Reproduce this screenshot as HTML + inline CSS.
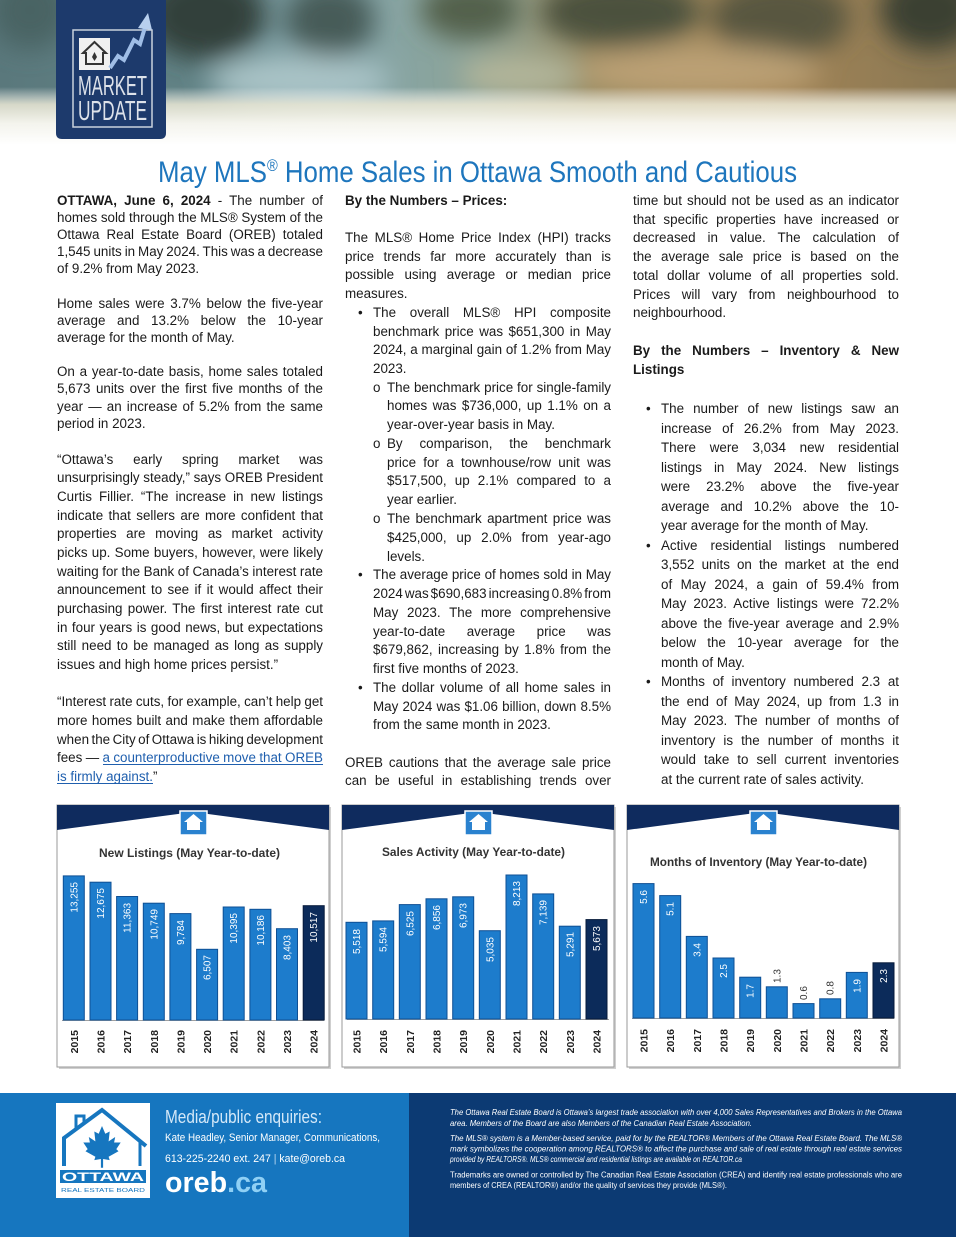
<!DOCTYPE html>
<html><head><meta charset="utf-8"><title>May MLS® Home Sales in Ottawa Smooth and Cautious</title>
<style>
html,body{margin:0;padding:0;background:#fff;}
svg{display:block;}
</style></head><body>
<svg id="pg" width="956" height="1237" viewBox="0 0 956 1237" xmlns="http://www.w3.org/2000/svg" font-family="'Liberation Sans', Arial, sans-serif">
<defs>
  <filter id="blur" x="-30%" y="-80%" width="160%" height="260%"><feGaussianBlur stdDeviation="13"/></filter>
  <linearGradient id="hbase" x1="0" y1="0" x2="1" y2="0">
    <stop offset="0" stop-color="#5a787c"/>
    <stop offset="0.2" stop-color="#628386"/>
    <stop offset="0.35" stop-color="#84a5aa"/>
    <stop offset="0.5" stop-color="#8ca398"/>
    <stop offset="0.62" stop-color="#9a8d64"/>
    <stop offset="0.8" stop-color="#a28456"/>
    <stop offset="1" stop-color="#8a7854"/>
  </linearGradient>
  <linearGradient id="hfade" x1="0" y1="0" x2="0" y2="145" gradientUnits="userSpaceOnUse">
    <stop offset="0" stop-color="#ffffff" stop-opacity="0"/>
    <stop offset="0.6" stop-color="#ffffff" stop-opacity="0"/>
    <stop offset="0.72" stop-color="#ece9d6" stop-opacity="0.85"/>
    <stop offset="0.85" stop-color="#f8f7f0" stop-opacity="0.97"/>
    <stop offset="1" stop-color="#ffffff" stop-opacity="1"/>
  </linearGradient>
  <clipPath id="hclip"><rect x="0" y="0" width="956" height="145"/></clipPath>
</defs>

<!-- HEADER PHOTO -->
<g clip-path="url(#hclip)">
  <rect x="0" y="0" width="956" height="145" fill="url(#hbase)"/>
  <g filter="url(#blur)">
    <ellipse cx="30" cy="10" rx="40" ry="40" fill="#4a6363"/>
    <ellipse cx="205" cy="15" rx="60" ry="45" fill="#303f3a"/>
    <ellipse cx="330" cy="20" rx="45" ry="38" fill="#475b59"/>
    <ellipse cx="470" cy="10" rx="50" ry="30" fill="#52604c"/>
    <ellipse cx="620" cy="12" rx="80" ry="35" fill="#4b513c"/>
    <ellipse cx="780" cy="18" rx="70" ry="40" fill="#58573f"/>
    <ellipse cx="930" cy="10" rx="50" ry="40" fill="#3b3f31"/>
    <ellipse cx="300" cy="80" rx="90" ry="25" fill="#a9c3c6"/>
    <ellipse cx="700" cy="70" rx="120" ry="25" fill="#bba075"/>
    <ellipse cx="520" cy="75" rx="60" ry="20" fill="#b2b59a"/>
  </g>
  <rect x="0" y="0" width="956" height="145" fill="url(#hfade)"/>
</g>

<!-- BADGE -->
<path d="M56,0 H166 V133 Q166,139 160,139 H62 Q56,139 56,133 Z" fill="#1d3a6c"/>
<rect x="73" y="30" width="79" height="97" fill="none" stroke="#c9d1dc" stroke-width="1.5"/>
<rect x="79" y="38" width="31" height="32" fill="#f0f0f0"/>
<polygon points="94.5,42 83,53 86,53 86,64 103,64 103,53 106,53" fill="none" stroke="#333" stroke-width="2"/>
<polygon points="94.5,52 97,57 94.5,61 92,57" fill="#333"/>
<polyline points="110,68 118,56 124,60 134,40 140,44 146,24" fill="none" stroke="#9fbde6" stroke-width="4"/>
<polygon points="138,28 148,13 152,30" fill="#b8cfee"/>
<text x="78" y="95" font-size="28" fill="#dde2ea" textLength="69" lengthAdjust="spacingAndGlyphs">MARKET</text>
<text x="78" y="120" font-size="28" fill="#dde2ea" textLength="69" lengthAdjust="spacingAndGlyphs">UPDATE</text>

<!-- TITLE -->
<text x="158" y="182" font-size="30" fill="#1e76bd" textLength="639" lengthAdjust="spacingAndGlyphs">May MLS<tspan font-size="17" dy="-11">®</tspan><tspan dy="11"> Home Sales in Ottawa Smooth and Cautious</tspan></text>

<!-- BODY TEXT -->
<g font-size="13.4" fill="#1a1a1a">
  <!-- Left column -->
  <text x="57" y="205" textLength="266" lengthAdjust="spacing"><tspan font-weight="bold">OTTAWA, June 6, 2024</tspan> - The number of</text>
  <text x="57" y="222" textLength="266" lengthAdjust="spacing">homes sold through the MLS® System of the</text>
  <text x="57" y="239" textLength="266" lengthAdjust="spacing">Ottawa Real Estate Board (OREB) totaled</text>
  <text x="57" y="256" textLength="266" lengthAdjust="spacing">1,545 units in May 2024. This was a decrease</text>
  <text x="57" y="273">of 9.2% from May 2023.</text>
  <text x="57" y="308" textLength="266" lengthAdjust="spacing">Home sales were 3.7% below the five-year</text>
  <text x="57" y="325" textLength="266" lengthAdjust="spacing">average and 13.2% below the 10-year</text>
  <text x="57" y="342">average for the month of May.</text>
  <text x="57" y="376" textLength="266" lengthAdjust="spacing">On a year-to-date basis, home sales totaled</text>
  <text x="57" y="393" textLength="266" lengthAdjust="spacing">5,673 units over the first five months of the</text>
  <text x="57" y="411" textLength="266" lengthAdjust="spacing">year — an increase of 5.2% from the same</text>
  <text x="57" y="428">period in 2023.</text>
  <text x="57" y="464" textLength="266" lengthAdjust="spacing">“Ottawa’s early spring market was</text>
  <text x="57" y="482" textLength="266" lengthAdjust="spacing">unsurprisingly steady,” says OREB President</text>
  <text x="57" y="501" textLength="266" lengthAdjust="spacing">Curtis Fillier. “The increase in new listings</text>
  <text x="57" y="520" textLength="266" lengthAdjust="spacing">indicate that sellers are more confident that</text>
  <text x="57" y="538" textLength="266" lengthAdjust="spacing">properties are moving as market activity</text>
  <text x="57" y="557" textLength="266" lengthAdjust="spacing">picks up. Some buyers, however, were likely</text>
  <text x="57" y="576" textLength="266" lengthAdjust="spacing">waiting for the Bank of Canada’s interest rate</text>
  <text x="57" y="594" textLength="266" lengthAdjust="spacing">announcement to see if it would affect their</text>
  <text x="57" y="613" textLength="266" lengthAdjust="spacing">purchasing power. The first interest rate cut</text>
  <text x="57" y="632" textLength="266" lengthAdjust="spacing">in four years is good news, but expectations</text>
  <text x="57" y="650" textLength="266" lengthAdjust="spacing">still need to be managed as long as supply</text>
  <text x="57" y="669">issues and high home prices persist.”</text>
  <text x="57" y="706" textLength="266" lengthAdjust="spacing">“Interest rate cuts, for example, can’t help get</text>
  <text x="57" y="725" textLength="266" lengthAdjust="spacing">more homes built and make them affordable</text>
  <text x="57" y="744" textLength="266" lengthAdjust="spacing">when the City of Ottawa is hiking development</text>
  <text x="57" y="762" textLength="266" lengthAdjust="spacing">fees — <tspan fill="#1f5fae">a counterproductive move that OREB</tspan></text>
  <line x1="103" y1="764.5" x2="323" y2="764.5" stroke="#1f5fae" stroke-width="1"/>
  <text x="57" y="781"><tspan fill="#1f5fae">is firmly against.</tspan>”</text>
  <line x1="57" y1="783.5" x2="153" y2="783.5" stroke="#1f5fae" stroke-width="1"/>

  <!-- Middle column -->
  <text x="345" y="205" font-weight="bold">By the Numbers – Prices:</text>
  <text x="345" y="242" textLength="266" lengthAdjust="spacing">The MLS® Home Price Index (HPI) tracks</text>
  <text x="345" y="261" textLength="266" lengthAdjust="spacing">price trends far more accurately than is</text>
  <text x="345" y="279" textLength="266" lengthAdjust="spacing">possible using average or median price</text>
  <text x="345" y="298">measures.</text>
  <text x="358" y="317">•</text>
  <text x="373" y="317" textLength="238" lengthAdjust="spacing">The overall MLS® HPI composite</text>
  <text x="373" y="336" textLength="238" lengthAdjust="spacing">benchmark price was $651,300 in May</text>
  <text x="373" y="354" textLength="238" lengthAdjust="spacing">2024, a marginal gain of 1.2% from May</text>
  <text x="373" y="373">2023.</text>
  <text x="373" y="392">o</text>
  <text x="387" y="392" textLength="224" lengthAdjust="spacing">The benchmark price for single-family</text>
  <text x="387" y="410" textLength="224" lengthAdjust="spacing">homes was $736,000, up 1.1% on a</text>
  <text x="387" y="429">year-over-year basis in May.</text>
  <text x="373" y="448">o</text>
  <text x="387" y="448" textLength="224" lengthAdjust="spacing">By comparison, the benchmark</text>
  <text x="387" y="467" textLength="224" lengthAdjust="spacing">price for a townhouse/row unit was</text>
  <text x="387" y="485" textLength="224" lengthAdjust="spacing">$517,500, up 2.1% compared to a</text>
  <text x="387" y="504">year earlier.</text>
  <text x="373" y="523">o</text>
  <text x="387" y="523" textLength="224" lengthAdjust="spacing">The benchmark apartment price was</text>
  <text x="387" y="542" textLength="224" lengthAdjust="spacing">$425,000, up 2.0% from year-ago</text>
  <text x="387" y="561">levels.</text>
  <text x="358" y="579">•</text>
  <text x="373" y="579" textLength="238" lengthAdjust="spacing">The average price of homes sold in May</text>
  <text x="373" y="598" textLength="238" lengthAdjust="spacing">2024 was $690,683 increasing 0.8% from</text>
  <text x="373" y="617" textLength="238" lengthAdjust="spacing">May 2023. The more comprehensive</text>
  <text x="373" y="636" textLength="238" lengthAdjust="spacing">year-to-date average price was</text>
  <text x="373" y="654" textLength="238" lengthAdjust="spacing">$679,862, increasing by 1.8% from the</text>
  <text x="373" y="673">first five months of 2023.</text>
  <text x="358" y="692">•</text>
  <text x="373" y="692" textLength="238" lengthAdjust="spacing">The dollar volume of all home sales in</text>
  <text x="373" y="711" textLength="238" lengthAdjust="spacing">May 2024 was $1.06 billion, down 8.5%</text>
  <text x="373" y="729">from the same month in 2023.</text>
  <text x="345" y="767" textLength="266" lengthAdjust="spacing">OREB cautions that the average sale price</text>
  <text x="345" y="785" textLength="266" lengthAdjust="spacing">can be useful in establishing trends over</text>

  <!-- Right column -->
  <text x="633" y="205" textLength="266" lengthAdjust="spacing">time but should not be used as an indicator</text>
  <text x="633" y="224" textLength="266" lengthAdjust="spacing">that specific properties have increased or</text>
  <text x="633" y="242" textLength="266" lengthAdjust="spacing">decreased in value. The calculation of</text>
  <text x="633" y="261" textLength="266" lengthAdjust="spacing">the average sale price is based on the</text>
  <text x="633" y="280" textLength="266" lengthAdjust="spacing">total dollar volume of all properties sold.</text>
  <text x="633" y="299" textLength="266" lengthAdjust="spacing">Prices will vary from neighbourhood to</text>
  <text x="633" y="317">neighbourhood.</text>
  <text x="633" y="355" font-weight="bold" textLength="266" lengthAdjust="spacing">By the Numbers – Inventory &amp; New</text>
  <text x="633" y="374" font-weight="bold">Listings</text>
  <text x="646" y="413">•</text>
  <text x="661" y="413" textLength="238" lengthAdjust="spacing">The number of new listings saw an</text>
  <text x="661" y="433" textLength="238" lengthAdjust="spacing">increase of 26.2% from May 2023.</text>
  <text x="661" y="452" textLength="238" lengthAdjust="spacing">There were 3,034 new residential</text>
  <text x="661" y="472" textLength="238" lengthAdjust="spacing">listings in May 2024. New listings</text>
  <text x="661" y="491" textLength="238" lengthAdjust="spacing">were 23.2% above the five-year</text>
  <text x="661" y="511" textLength="238" lengthAdjust="spacing">average and 10.2% above the 10-</text>
  <text x="661" y="530">year average for the month of May.</text>
  <text x="646" y="550">•</text>
  <text x="661" y="550" textLength="238" lengthAdjust="spacing">Active residential listings numbered</text>
  <text x="661" y="569" textLength="238" lengthAdjust="spacing">3,552 units on the market at the end</text>
  <text x="661" y="589" textLength="238" lengthAdjust="spacing">of May 2024, a gain of 59.4% from</text>
  <text x="661" y="608" textLength="238" lengthAdjust="spacing">May 2023. Active listings were 72.2%</text>
  <text x="661" y="628" textLength="238" lengthAdjust="spacing">above the five-year average and 2.9%</text>
  <text x="661" y="647" textLength="238" lengthAdjust="spacing">below the 10-year average for the</text>
  <text x="661" y="667">month of May.</text>
  <text x="646" y="686">•</text>
  <text x="661" y="686" textLength="238" lengthAdjust="spacing">Months of inventory numbered 2.3 at</text>
  <text x="661" y="706" textLength="238" lengthAdjust="spacing">the end of May 2024, up from 1.3 in</text>
  <text x="661" y="725" textLength="238" lengthAdjust="spacing">May 2023. The number of months of</text>
  <text x="661" y="745" textLength="238" lengthAdjust="spacing">inventory is the number of months it</text>
  <text x="661" y="764" textLength="238" lengthAdjust="spacing">would take to sell current inventories</text>
  <text x="661" y="784">at the current rate of sales activity.</text>
</g>

<!-- CHART PANELS: frames -->
<g>
  <rect x="59" y="807" width="272" height="262" fill="#cfcfcf"/>
  <rect x="57" y="805" width="272" height="262" fill="#fff" stroke="#9a9a9a"/>
  <path d="M57,805 H329 V830 L193,812 L57,830 Z" fill="#0f2b5e"/>
  <rect x="180" y="811" width="27" height="24" fill="#2a82cf" stroke="#fff" stroke-width="1.5"/>
  <polygon points="193.5,814 184,822 187,822 187,830 200,830 200,822 203,822" fill="#fff"/>

  <rect x="344" y="807" width="272" height="262" fill="#cfcfcf"/>
  <rect x="342" y="805" width="272" height="262" fill="#fff" stroke="#9a9a9a"/>
  <path d="M342,805 H614 V830 L478,812 L342,830 Z" fill="#0f2b5e"/>
  <rect x="465" y="811" width="27" height="24" fill="#2a82cf" stroke="#fff" stroke-width="1.5"/>
  <polygon points="478.5,814 469,822 472,822 472,830 485,830 485,822 488,822" fill="#fff"/>

  <rect x="629" y="807" width="272" height="262" fill="#cfcfcf"/>
  <rect x="627" y="805" width="272" height="262" fill="#fff" stroke="#9a9a9a"/>
  <path d="M627,805 H899 V830 L763,812 L627,830 Z" fill="#0f2b5e"/>
  <rect x="750" y="811" width="27" height="24" fill="#2a82cf" stroke="#fff" stroke-width="1.5"/>
  <polygon points="763.5,814 754,822 757,822 757,830 770,830 770,822 773,822" fill="#fff"/>
</g>

<!-- Chart titles -->
<g font-weight="bold" font-size="11.5" fill="#333">
  <text x="99" y="857" textLength="181" lengthAdjust="spacingAndGlyphs">New Listings (May Year-to-date)</text>
  <text x="382" y="856" textLength="183" lengthAdjust="spacingAndGlyphs">Sales Activity (May Year-to-date)</text>
  <text x="650" y="866" textLength="217" lengthAdjust="spacingAndGlyphs">Months of Inventory (May Year-to-date)</text>
</g>

<!-- Axes -->
<g stroke="#a0a0a0" stroke-width="1">
  <line x1="62" y1="1020.5" x2="324" y2="1020.5"/>
  <line x1="347" y1="1019.5" x2="609" y2="1019.5"/>
  <line x1="632" y1="1018.5" x2="894" y2="1018.5"/>
</g>

<!-- Panel 1 bars -->
<g fill="#1d7ccc" stroke="#0e4f94" stroke-width="1">
  <rect x="63.3" y="875.9" width="21" height="144.1"/>
  <rect x="90.0" y="882.2" width="21" height="137.8"/>
  <rect x="116.6" y="896.5" width="21" height="123.5"/>
  <rect x="143.3" y="903.2" width="21" height="116.8"/>
  <rect x="169.9" y="913.6" width="21" height="106.4"/>
  <rect x="196.6" y="949.3" width="21" height="70.7"/>
  <rect x="223.2" y="907.0" width="21" height="113.0"/>
  <rect x="249.9" y="909.3" width="21" height="110.7"/>
  <rect x="276.5" y="928.7" width="21" height="91.3"/>
  <rect x="303.2" y="905.7" width="21" height="114.3" fill="#0c2b5a" stroke="#061a3a"/>
</g>
<g font-size="10" fill="#fff" text-anchor="end">
  <text transform="translate(77.3,882) rotate(-90)">13,255</text>
  <text transform="translate(104,888) rotate(-90)">12,675</text>
  <text transform="translate(130.6,903) rotate(-90)">11,363</text>
  <text transform="translate(157.3,909) rotate(-90)">10,749</text>
  <text transform="translate(183.9,920) rotate(-90)">9,784</text>
  <text transform="translate(210.6,955) rotate(-90)">6,507</text>
  <text transform="translate(237.2,913) rotate(-90)">10,395</text>
  <text transform="translate(263.9,915) rotate(-90)">10,186</text>
  <text transform="translate(290.5,935) rotate(-90)">8,403</text>
  <text transform="translate(317.2,912) rotate(-90)">10,517</text>
</g>

<!-- Panel 2 bars -->
<g fill="#1d7ccc" stroke="#0e4f94" stroke-width="1">
  <rect x="346" y="922.3" width="21" height="96.7"/>
  <rect x="372.7" y="920.9" width="21" height="98.1"/>
  <rect x="399.3" y="904.6" width="21" height="114.4"/>
  <rect x="426" y="898.8" width="21" height="120.2"/>
  <rect x="452.7" y="896.8" width="21" height="122.2"/>
  <rect x="479.3" y="930.7" width="21" height="88.3"/>
  <rect x="506" y="875.0" width="21" height="144.0"/>
  <rect x="532.7" y="893.9" width="21" height="125.1"/>
  <rect x="559.3" y="926.2" width="21" height="92.8"/>
  <rect x="586" y="919.6" width="21" height="99.4" fill="#0c2b5a" stroke="#061a3a"/>
</g>
<g font-size="10" fill="#fff" text-anchor="end">
  <text transform="translate(360,929) rotate(-90)">5,518</text>
  <text transform="translate(386.7,927) rotate(-90)">5,594</text>
  <text transform="translate(413.3,911) rotate(-90)">6,525</text>
  <text transform="translate(440,905) rotate(-90)">6,856</text>
  <text transform="translate(466.7,903) rotate(-90)">6,973</text>
  <text transform="translate(493.3,937) rotate(-90)">5,035</text>
  <text transform="translate(520,881) rotate(-90)">8,213</text>
  <text transform="translate(546.7,900) rotate(-90)">7,139</text>
  <text transform="translate(573.3,932) rotate(-90)">5,291</text>
  <text transform="translate(600,926) rotate(-90)">5,673</text>
</g>

<!-- Panel 3 bars -->
<g fill="#1d7ccc" stroke="#0e4f94" stroke-width="1">
  <rect x="633" y="883.6" width="21" height="134.4"/>
  <rect x="659.7" y="895.6" width="21" height="122.4"/>
  <rect x="686.3" y="936.4" width="21" height="81.6"/>
  <rect x="713" y="958" width="21" height="60"/>
  <rect x="739.7" y="977.2" width="21" height="40.8"/>
  <rect x="766.3" y="986.8" width="21" height="31.2"/>
  <rect x="793" y="1003.6" width="21" height="14.4"/>
  <rect x="819.7" y="998.8" width="21" height="19.2"/>
  <rect x="846.3" y="972.4" width="21" height="45.6"/>
  <rect x="873" y="962.8" width="21" height="55.2" fill="#0c2b5a" stroke="#061a3a"/>
</g>
<g font-size="10" fill="#fff" text-anchor="end">
  <text transform="translate(647,890) rotate(-90)">5.6</text>
  <text transform="translate(673.7,902) rotate(-90)">5.1</text>
  <text transform="translate(700.3,943) rotate(-90)">3.4</text>
  <text transform="translate(727,964) rotate(-90)">2.5</text>
  <text transform="translate(753.7,984) rotate(-90)">1.7</text>
  <text transform="translate(860.3,979) rotate(-90)">1.9</text>
  <text transform="translate(887,969) rotate(-90)">2.3</text>
</g>
<g font-size="10" fill="#333" text-anchor="start">
  <text transform="translate(780.3,983) rotate(-90)">1.3</text>
  <text transform="translate(807,1000) rotate(-90)">0.6</text>
  <text transform="translate(833.7,995) rotate(-90)">0.8</text>
</g>

<!-- Year labels -->
<g font-size="10.5" font-weight="bold" fill="#222" text-anchor="end">
  <text transform="translate(77.8,1030) rotate(-90)">2015</text>
  <text transform="translate(104.5,1030) rotate(-90)">2016</text>
  <text transform="translate(131.1,1030) rotate(-90)">2017</text>
  <text transform="translate(157.8,1030) rotate(-90)">2018</text>
  <text transform="translate(184.4,1030) rotate(-90)">2019</text>
  <text transform="translate(211.1,1030) rotate(-90)">2020</text>
  <text transform="translate(237.7,1030) rotate(-90)">2021</text>
  <text transform="translate(264.4,1030) rotate(-90)">2022</text>
  <text transform="translate(291,1030) rotate(-90)">2023</text>
  <text transform="translate(317.7,1030) rotate(-90)">2024</text>

  <text transform="translate(360.5,1030) rotate(-90)">2015</text>
  <text transform="translate(387.2,1030) rotate(-90)">2016</text>
  <text transform="translate(413.8,1030) rotate(-90)">2017</text>
  <text transform="translate(440.5,1030) rotate(-90)">2018</text>
  <text transform="translate(467.2,1030) rotate(-90)">2019</text>
  <text transform="translate(493.8,1030) rotate(-90)">2020</text>
  <text transform="translate(520.5,1030) rotate(-90)">2021</text>
  <text transform="translate(547.2,1030) rotate(-90)">2022</text>
  <text transform="translate(573.8,1030) rotate(-90)">2023</text>
  <text transform="translate(600.5,1030) rotate(-90)">2024</text>

  <text transform="translate(647.5,1029) rotate(-90)">2015</text>
  <text transform="translate(674.2,1029) rotate(-90)">2016</text>
  <text transform="translate(700.8,1029) rotate(-90)">2017</text>
  <text transform="translate(727.5,1029) rotate(-90)">2018</text>
  <text transform="translate(754.2,1029) rotate(-90)">2019</text>
  <text transform="translate(780.8,1029) rotate(-90)">2020</text>
  <text transform="translate(807.5,1029) rotate(-90)">2021</text>
  <text transform="translate(834.2,1029) rotate(-90)">2022</text>
  <text transform="translate(860.8,1029) rotate(-90)">2023</text>
  <text transform="translate(887.5,1029) rotate(-90)">2024</text>
</g>

<!-- FOOTER -->
<rect x="0" y="1093" width="409" height="144" fill="#1676bf"/>
<rect x="409" y="1093" width="547" height="144" fill="#0c3a73"/>

<!-- footer logo -->
<rect x="56" y="1103" width="94" height="95" fill="#ffffff"/>
<polyline points="64,1166 64,1138 102,1110 146,1146" fill="none" stroke="#1676bf" stroke-width="4"/>
<polyline points="76,1129 76,1116 84,1116 84,1123" fill="none" stroke="#1676bf" stroke-width="3"/>
<polyline points="140,1141 140,1166" fill="none" stroke="#1676bf" stroke-width="3"/>
<g transform="translate(102,1148) scale(1.1)" fill="#1676bf">
  <polygon points="0,-20 3,-13 7,-15 6,-6 12,-10 11,-5 17,-5 13,1 15,3 6,8 7,11 1,10 1,18 -1,18 -1,10 -7,11 -6,8 -15,3 -13,1 -17,-5 -11,-5 -12,-10 -6,-6 -7,-15 -3,-13"/>
</g>
<rect x="60" y="1170" width="86" height="13" fill="#1676bf"/>
<text x="62" y="1181" font-size="11.5" font-weight="bold" fill="#fff" textLength="82" lengthAdjust="spacingAndGlyphs">OTTAWA</text>
<text x="61" y="1192" font-size="5.5" fill="#1676bf" textLength="84" lengthAdjust="spacingAndGlyphs">REAL ESTATE BOARD</text>

<text x="165" y="1123" font-size="18" fill="#d4e8f8" textLength="157" lengthAdjust="spacingAndGlyphs">Media/public enquiries:</text>
<text x="165" y="1141" font-size="11" fill="#ffffff" textLength="215" lengthAdjust="spacingAndGlyphs">Kate Headley, Senior Manager, Communications,</text>
<text x="165" y="1162" font-size="11" fill="#ffffff" textLength="180" lengthAdjust="spacingAndGlyphs">613-225-2240 ext. 247  <tspan fill="#bcd8f0">|</tspan>  kate@oreb.ca</text>
<text x="165" y="1192" font-size="29" font-weight="bold" fill="#ffffff" textLength="102" lengthAdjust="spacingAndGlyphs">oreb<tspan fill="#8fd0f5">.ca</tspan></text>

<g font-size="8" fill="#ffffff">
  <text x="450" y="1115" font-style="italic" textLength="452" lengthAdjust="spacingAndGlyphs">The Ottawa Real Estate Board is Ottawa’s largest trade association with over 4,000 Sales Representatives and Brokers in the Ottawa</text>
  <text x="450" y="1126" font-style="italic" textLength="302" lengthAdjust="spacingAndGlyphs">area. Members of the Board are also Members of the Canadian Real Estate Association.</text>
  <text x="450" y="1141" font-style="italic" textLength="452" lengthAdjust="spacingAndGlyphs">The MLS® system is a Member-based service, paid for by the REALTOR® Members of the Ottawa Real Estate Board. The MLS®</text>
  <text x="450" y="1151.5" font-style="italic" textLength="452" lengthAdjust="spacingAndGlyphs">mark symbolizes the cooperation among REALTORS® to affect the purchase and sale of real estate through real estate services</text>
  <text x="450" y="1162" font-style="italic" textLength="292" lengthAdjust="spacingAndGlyphs">provided by REALTORS®. MLS® commercial and residential listings are available on REALTOR.ca</text>
  <text x="450" y="1177.5" textLength="452" lengthAdjust="spacingAndGlyphs">Trademarks are owned or controlled by The Canadian Real Estate Association (CREA) and identify real estate professionals who are</text>
  <text x="450" y="1188" textLength="277" lengthAdjust="spacingAndGlyphs">members of CREA (REALTOR®) and/or the quality of services they provide (MLS®).</text>
</g>
</svg>
<script>
(function(){
  try{
    var ts=document.getElementById('pg').getElementsByTagName('text');
    for(var i=0;i<ts.length;i++){
      var t=ts[i];
      if(t.getAttribute('lengthAdjust')!=='spacing') continue;
      var target=parseFloat(t.getAttribute('textLength'));
      if(!target) continue;
      var txt=t.textContent.replace(/\s+/g,' ').trim();
      var sp=(txt.match(/ /g)||[]).length;
      if(!sp) continue;
      t.removeAttribute('textLength');
      t.removeAttribute('lengthAdjust');
      var nat=t.getComputedTextLength();
      var ws=(target-nat)/sp;
      t.style.wordSpacing=ws+'px';
      var n2=t.getComputedTextLength();
      if(Math.abs(n2-target)>2.5){
        t.style.wordSpacing='';
        t.setAttribute('textLength',target);
        t.setAttribute('lengthAdjust','spacing');
      }
    }
  }catch(e){}
})();
</script>
</body></html>
